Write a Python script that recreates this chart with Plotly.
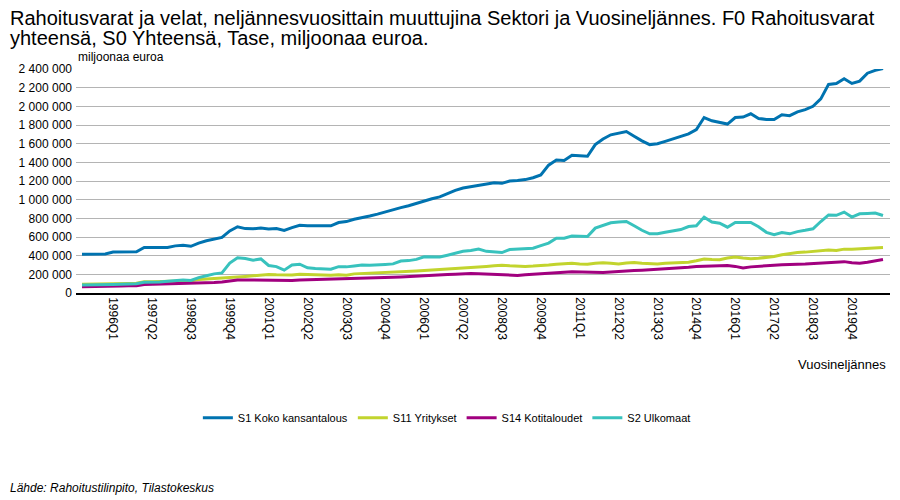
import plotly.graph_objects as go

# quarters 1995Q1 .. 2020Q4
quarters = [f"{y}Q{q}" for y in range(1995, 2021) for q in range(1, 5)]

# values in thousands of millions of euros (x1000 below)
s1_koko = [
    415, 415, 415, 418, 440, 440, 440, 442, 488, 488, 487, 488, 505, 512, 500,
    535, 560, 580, 595, 665, 710, 690, 688, 695, 685, 690, 670, 700, 725, 720,
    718, 718, 720, 755, 765, 790, 805, 825, 845, 870, 890, 915, 935, 960, 990,
    1010, 1030, 1065, 1100, 1125, 1140, 1158, 1165, 1180, 1175, 1200, 1205, 1215,
    1235, 1265, 1370, 1425, 1420, 1475, 1470, 1465, 1590, 1650, 1695, 1715, 1730,
    1680, 1630, 1590, 1600, 1625, 1650, 1680, 1705, 1750, 1880, 1845, 1825, 1810,
    1880, 1885, 1920, 1870, 1860, 1858, 1910, 1900, 1940, 1965, 2000, 2080, 2235,
    2245, 2295, 2245, 2270, 2355, 2385, 2405,
]
s11_yritykset = [
    95, 95, 95, 97, 100, 100, 102, 104, 120, 120, 122, 124, 128, 133, 132,
    145, 150, 152, 155, 165, 172, 178, 185, 195, 198, 195, 192, 193, 200, 198,
    190, 188, 190, 195, 190, 205, 208, 210, 212, 215, 220, 225, 228, 235, 240,
    245, 250, 256, 262, 266, 268, 275, 285, 292, 298, 292, 285, 285, 288, 292,
    300, 308, 315, 318, 312, 308, 318, 325, 318, 312, 322, 328, 320, 312, 312,
    318, 322, 328, 330, 345, 365, 358, 356, 375, 385, 375, 368, 372, 378, 392,
    410, 425, 433, 438, 445, 452, 460, 455, 470, 468, 472, 475, 480, 488,
]
s14_kotitaloudet = [
    68, 68, 68, 68, 75, 76, 78, 78, 90, 92, 93, 95, 97, 100, 102,
    105, 110, 113, 118, 128, 140, 140, 138, 140, 138, 132, 133, 135, 138, 140,
    140, 142, 145, 150, 153, 155, 158, 160, 162, 165, 168, 172, 175, 180, 185,
    190, 193, 198, 202, 207, 210, 207, 203, 198, 190, 184, 188, 195, 202, 206,
    212, 218, 222, 228, 226, 218, 215, 220, 225, 232, 236, 240, 244, 248, 252,
    256, 262, 268, 275, 283, 286, 290, 292, 294, 285, 268, 280, 288, 294, 298,
    302, 308, 308, 310, 315, 322, 326, 330, 336, 324, 318, 330, 345, 358,
]
s2_ulkomaat = [
    85, 85, 85, 85, 92, 95, 96, 100, 115, 115, 118, 125, 135, 138, 135,
    165, 185, 205, 215, 320, 378, 370, 352, 365, 295, 283, 245, 300, 308, 270,
    262, 262, 254, 282, 280, 290, 300, 296, 298, 306, 312, 343, 347, 360, 388,
    385, 385, 405, 425, 447, 455, 470, 446, 440, 433, 465, 470, 473, 480, 508,
    535, 587, 587, 610, 608, 605, 695, 722, 752, 760, 766, 720, 672, 634, 634,
    650, 664, 680, 712, 720, 813, 760, 748, 705, 755, 758, 755, 710, 650, 625,
    648, 634, 658, 672, 688, 766, 836, 832, 867, 813, 849, 852, 856, 830,
]

series = [
    ("S1 Koko kansantalous", s1_koko, "#0073b0"),
    ("S11 Yritykset", s11_yritykset, "#c2d42e"),
    ("S14 Kotitaloudet", s14_kotitaloudet, "#a1007f"),
    ("S2 Ulkomaat", s2_ulkomaat, "#38c2bd"),
]

tick_idx = list(range(4, len(quarters), 5))

fig = go.Figure()
for name, vals, color in series:
    fig.add_trace(go.Scatter(
        x=list(range(len(quarters))),
        y=[v * 1000 for v in vals],
        mode="lines",
        name=name,
        line=dict(color=color, width=3),
        customdata=quarters,
        hovertemplate="%{customdata}: %{y}<extra>" + name + "</extra>",
    ))

# page body has an 8px margin, so the figure is a bit smaller than the window
fig.update_layout(
    width=892,
    height=492,
    margin=dict(l=68, r=10, t=61, b=207),
    paper_bgcolor="white",
    plot_bgcolor="white",
    separators=", ",
    font=dict(family="Liberation Sans, Arial, sans-serif", color="black", size=12),
    xaxis=dict(
        range=[-0.77, 103.9],
        tickmode="array",
        tickvals=tick_idx,
        ticktext=[quarters[i] for i in tick_idx],
        tickangle=90,
        tickfont=dict(size=12),
        showgrid=False,
        showline=True,
        linecolor="black",
        linewidth=1.5,
        ticks="",
        zeroline=False,
    ),
    yaxis=dict(
        range=[0, 2400000],
        dtick=200000,
        tickformat=",d",
        showgrid=True,
        gridcolor="#b4b4b4",
        gridwidth=1,
        zeroline=False,
        showline=False,
        ticks="",
        ticklabelstandoff=3,
        tickfont=dict(size=12),
    ),
    legend=dict(
        orientation="h",
        xref="container", yref="container",
        x=0.492, y=0.167, xanchor="center", yanchor="middle",
        font=dict(size=11),
    ),
    annotations=[
        dict(text="Rahoitusvarat ja velat, neljännesvuosittain muuttujina Sektori ja Vuosineljännes. F0 Rahoitusvarat",
             xref="paper", yref="paper", x=-0.0835, y=1.226,
             xanchor="left", yanchor="middle", showarrow=False, font=dict(size=20)),
        dict(text="yhteensä, S0 Yhteensä, Tase, miljoonaa euroa.",
             xref="paper", yref="paper", x=-0.0835, y=1.138,
             xanchor="left", yanchor="middle", showarrow=False, font=dict(size=20)),
        dict(text="miljoonaa euroa", xref="paper", yref="paper",
             x=0.0, y=1.054, xanchor="left", yanchor="middle",
             showarrow=False, font=dict(size=12)),
        dict(text="Vuosineljännes", xref="paper", yref="paper",
             x=0.9975, y=-0.321, xanchor="right", yanchor="middle",
             showarrow=False, font=dict(size=13)),
        dict(text="<i>Lähde: Rahoitustilinpito, Tilastokeskus</i>", xref="paper", yref="paper",
             x=-0.0835, y=-0.8705, xanchor="left", yanchor="middle",
             showarrow=False, font=dict(size=12)),
    ],
)

fig.write_html("out.html")
